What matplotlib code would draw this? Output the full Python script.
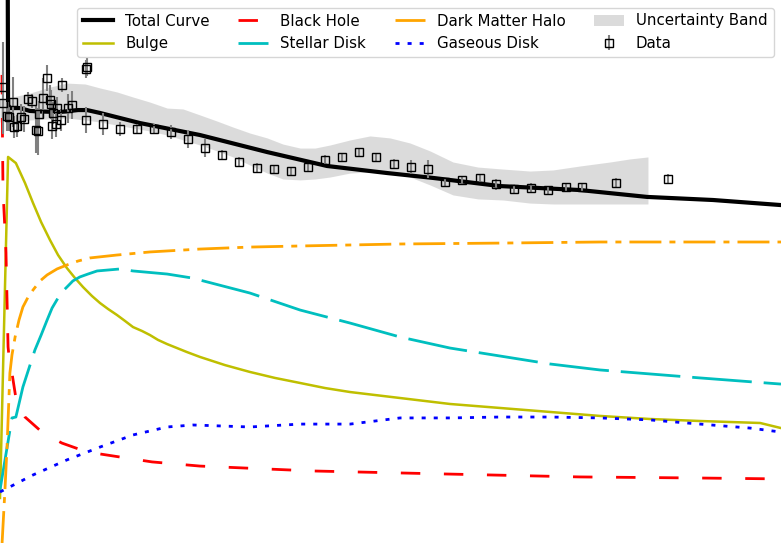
import numpy as np
import matplotlib
matplotlib.use("Agg")
import matplotlib.pyplot as plt

# radius in kpc, velocity in km/s
r_total = [0.28, 0.31, 0.38, 0.77, 1.15, 1.54, 2.31, 3.0, 3.34, 3.84, 4.61, 5.38, 6.15,
           7.68, 10.26, 12.56, 14.87, 16.63, 19.21, 22.28, 24.86, 27.39, 30.0]
v_total = [400, 242.0, 240.3, 240.3, 238.7, 238.4, 238.1, 239.2, 239.2, 237.6, 234.8, 232.0, 229.8,
           225.4, 216.0, 208.3, 204.4, 201.7, 197.2, 195.0, 191.2, 189.5, 186.7]

r_bulge = [0, 0.31, 0.61, 0.96, 1.27, 1.58, 1.92, 2.23, 2.57, 2.88, 3.19, 3.53, 3.84, 4.15,
           4.49, 4.80, 5.11, 5.46, 5.76, 6.07, 6.42, 6.80, 7.18, 7.68, 8.64, 9.60, 10.56, 11.53,
           12.49, 13.45, 15.37, 17.29, 19.21, 21.13, 23.05, 24.97, 26.89, 29.2, 30.0]
v_bulge = [24.9, 213.3, 209.9, 198.9, 187.8, 177.3, 167.4, 159.1, 151.9, 146.4, 141.4, 136.5, 132.6, 129.3,
           126.0, 122.7, 119.3, 117.1, 114.9, 112.2, 109.9, 107.7, 105.5, 102.8, 98.3, 94.5, 91.2, 88.4,
           85.6, 83.4, 80.1, 76.8, 74.6, 72.4, 70.2, 68.5, 67.4, 66.3, 63.5]

r_bh = [0.077, 0.096, 0.115, 0.19, 0.23, 0.27, 0.31, 0.38, 0.46, 0.61, 0.96, 1.65, 2.38, 3.34,
        4.11, 5.84, 7.68, 12.0, 17.2, 22.28, 26.89, 30.0]
v_bh = [258.6, 222.7, 195.0, 172.9, 160.2, 134.3, 108.3, 98.3, 93.9, 80.1, 69.6, 60.8, 55.2, 50.3,
        48.6, 44.8, 42.5, 39.8, 38.1, 36.5, 35.9, 35.4]

r_disk = [0, 0.46, 0.61, 0.88, 1.34, 1.58, 1.81, 2.0, 2.23, 2.38, 2.57, 2.8, 3.07, 3.38, 3.73,
          4.61, 5.11, 6.42, 7.38, 9.60, 11.53, 13.45, 15.37, 17.29, 19.21, 21.13, 23.05, 24.97,
          26.89, 30.0]
v_disk = [29.3, 69.1, 69.6, 86.2, 106.6, 114.9, 123.2, 129.8, 135.4, 138.7, 141.4, 144.8, 147.0, 148.6,
          150.3, 151.4, 150.3, 148.6, 146.4, 138.1, 128.7, 121.5, 113.8, 107.7, 103.3, 98.9, 95.6, 93.4,
          91.2, 87.8]

r_halo = [0.08, 0.19, 0.27, 0.38, 0.46, 0.58, 0.73, 0.88, 1.08, 1.27, 1.54, 1.81, 2.19, 2.57,
          3.0, 3.46, 4.49, 5.76, 7.68, 9.60, 11.53, 15.37, 19.21, 23.05, 30.0]
v_halo = [0.0, 29.3, 53.0, 93.9, 103.9, 113.8, 123.2, 130.4, 135.9, 139.8, 144.8, 148.1, 151.4, 153.6,
          155.8, 157.5, 159.1, 160.8, 162.4, 163.5, 164.1, 165.2, 165.7, 166.3, 166.3]

r_gas = [0, 1.27, 2.57, 3.84, 5.11, 6.42, 7.41, 9.60, 11.53, 13.45, 15.37, 17.29, 19.21,
         21.13, 23.05, 24.97, 26.89, 28.81, 30.0]
v_gas = [28.2, 37.6, 45.9, 53.0, 59.7, 64.1, 65.2, 64.1, 65.7, 65.7, 69.1, 69.1, 69.6,
         69.6, 69.1, 68.0, 65.7, 63.5, 61.3]

r_band = [0, 1.15, 1.92, 2.57, 3.27, 3.84, 4.49, 5.11, 5.76, 6.42, 7.03, 7.68, 8.34, 8.95,
          9.60, 10.26, 10.87, 11.53, 12.10, 12.68, 13.45, 14.21, 14.98, 15.75, 16.52, 17.40,
          18.36, 19.32, 20.36, 21.24, 22.28, 23.43, 24.20, 24.89]
band_hi = [244.8, 248.6, 251.9, 254.1, 253.6, 251.4, 249.2, 246.4, 243.6, 240.3, 239.8, 236.5, 233.1, 229.8,
           226.5, 223.8, 220.4, 218.2, 218.2, 219.9, 222.7, 224.9, 223.8, 221.0, 216.6, 210.5,
           207.7, 206.6, 205.5, 206.1, 208.3, 210.5, 212.2, 213.3]
band_lo = [232.6, 233.7, 234.3, 234.8, 233.7, 232.6, 230.9, 229.3, 227.6, 225.4, 222.7, 219.9, 216.6, 213.3,
           208.8, 204.4, 201.1, 200.6, 201.1, 202.2, 204.4, 205.0, 204.4, 202.2, 197.8, 192.3,
           190.1, 189.5, 187.8, 187.3, 187.3, 187.3, 187.3, 187.3]

r_obs = [0.12, 0.12, 0.27, 0.35, 0.50, 0.54, 0.65, 0.81, 0.92, 1.08, 1.23, 1.38, 1.46, 1.50,
         1.65, 1.81, 1.92, 1.96, 2.00, 2.04, 2.15, 2.19, 2.34, 2.38, 2.61, 2.77, 3.30, 3.34,
         3.30, 3.96, 4.61, 5.26, 5.92, 6.57, 7.22, 7.88, 8.53, 9.18, 9.87, 10.53, 11.18, 11.83,
         12.49, 13.14, 13.79, 14.44, 15.14, 15.79, 16.44, 17.10, 17.75, 18.44, 19.05, 19.75,
         20.40, 21.05, 21.74, 22.36, 23.66, 25.66]
v_obs = [251.9, 243.1, 235.9, 235.4, 243.6, 229.8, 230.4, 235.4, 234.3, 245.3, 244.2, 228.2, 227.6, 237.0,
         245.9, 256.9, 244.8, 242.5, 230.4, 237.6, 231.5, 240.3, 233.7, 253.0, 240.3, 242.0, 261.9, 263.0,
         233.7, 231.5, 228.7, 228.7, 228.7, 227.1, 223.2, 218.2, 214.4, 210.5, 207.2, 206.6, 205.5, 207.7,
         211.6, 213.3, 216.0, 213.3, 209.4, 207.7, 206.6, 199.4, 200.6, 201.7, 198.3, 195.6,
         196.1, 195.0, 196.7, 196.7, 198.9, 201.1]
e_obs = [25, 17, 8, 8, 14, 6, 6, 7, 7, 4, 4, 13, 13, 7,
         11, 7, 8, 8, 7, 6, 7, 6, 6, 4, 8, 8, 5, 5,
         7, 6, 4, 3, 3, 4, 5, 5, 3, 3, 3, 2, 2, 2,
         3, 2, 2, 2, 3, 4, 5, 2, 2, 2, 3, 3,
         3, 2, 2, 2, 3, 3]

fig = plt.figure(figsize=(7.81, 5.43), dpi=100)
ax = fig.add_axes([0, 0, 1, 1])

band = ax.fill_between(r_band, band_lo, band_hi, color='lightgray', alpha=0.8, lw=0, zorder=1)
h_total, = ax.plot(r_total, v_total, color='black', lw=3, zorder=4)
h_bulge, = ax.plot(r_bulge, v_bulge, color='y', lw=1.8, zorder=3)
h_bh, = ax.plot(r_bh, v_bh, color='red', lw=2, ls=(0, (7, 8.5)), zorder=3)
h_disk, = ax.plot(r_disk, v_disk, color='c', lw=2, ls=(0, (21.5, 4.3)), zorder=3)
h_halo, = ax.plot(r_halo, v_halo, color='orange', lw=2, ls=(0, (11.5, 2.9, 2.15, 2.9)), zorder=3)
h_gas, = ax.plot(r_gas, v_gas, color='b', lw=2, ls=(0, (1.45, 2.9)), zorder=3)
h_data = ax.errorbar(r_obs, v_obs, yerr=e_obs, fmt='s', ms=6, mfc='none', mec='black', mew=1,
                     ecolor='gray', elinewidth=1.5, capsize=0, zorder=5)

ax.set_xlim(0, 30)
ax.set_ylim(0, 300)
ax.axis('off')

ax.legend([h_total, h_bulge, h_bh, h_disk, h_halo, h_gas, band, h_data],
          ['Total Curve', 'Bulge', 'Black Hole', 'Stellar Disk', 'Dark Matter Halo',
           'Gaseous Disk', 'Uncertainty Band', 'Data'],
          loc='upper right', ncol=4, fontsize=10.8, columnspacing=1.9)

fig.savefig('out.png', dpi=100)
